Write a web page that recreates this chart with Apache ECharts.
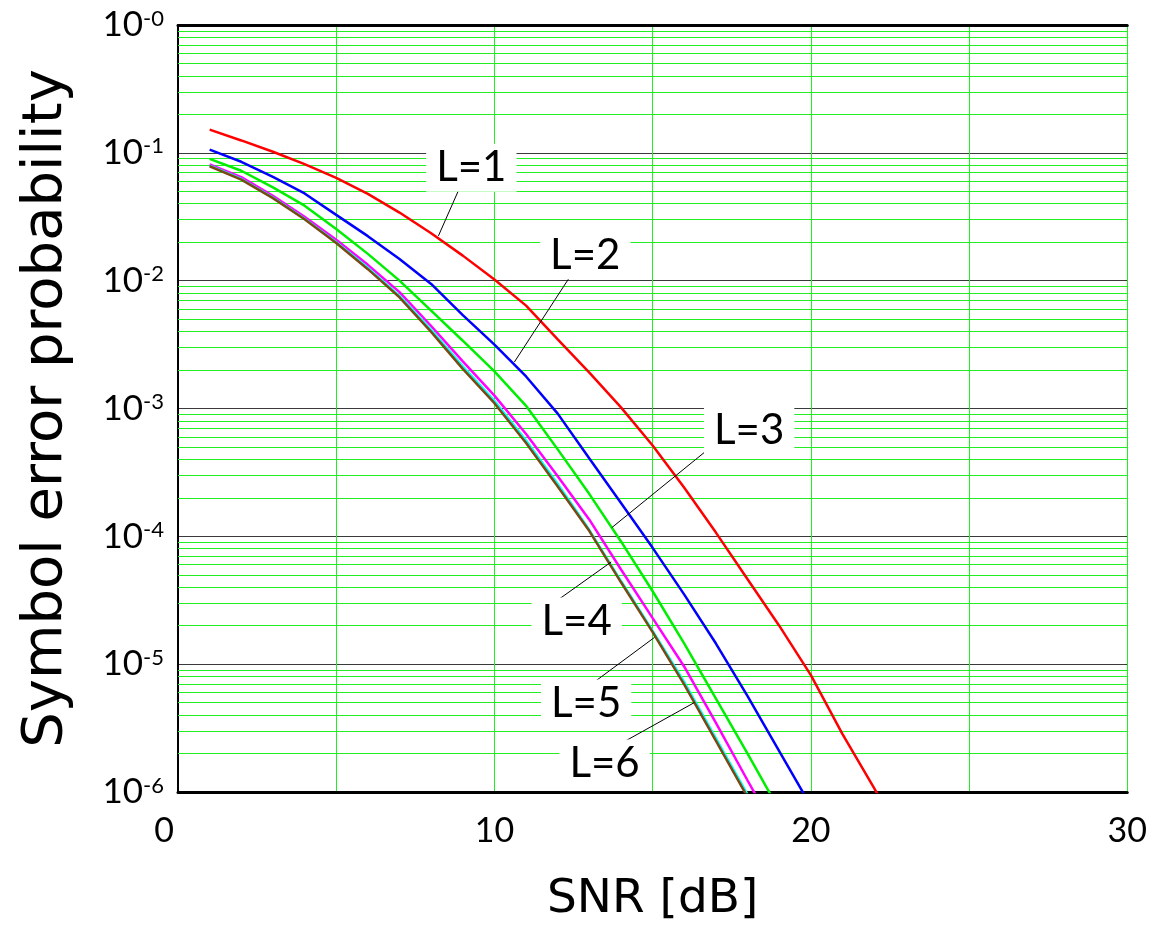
<!DOCTYPE html>
<html>
<head>
<meta charset="utf-8">
<script src="https://cdn.jsdelivr.net/npm/echarts@6/dist/echarts.min.js"></script>
<style>
  html, body { margin: 0; padding: 0; background: #fff; }
  #chart { width: 1150px; height: 937px; }
</style>
</head>
<body>
<div id="chart"></div>
<script>
// SNR in dB, one point per dB
const snr = [1, 2, 3, 4, 5, 6, 7, 8, 9, 10, 11, 12, 13, 14, 15, 16, 17, 18, 19, 20, 21, 22, 23];

// symbol error probability
const serL1 = [0.152, 0.125, 0.102, 0.0817, 0.0637, 0.0478, 0.0341, 0.0235, 0.0157, 0.0102,
  0.00638, 0.00347, 0.00191, 0.00102, 5.13e-4, 2.40e-4, 1.07e-4, 4.61e-5, 2.0e-5, 8.2e-6,
  2.84e-6, 1.07e-6, 4.0e-7];
const serL2 = [0.106, 0.0851, 0.0649, 0.0481, 0.0327, 0.0223, 0.0148, 0.00942, 0.00537, 0.00316,
  0.00178, 9.12e-4, 4.07e-4, 1.82e-4, 8.13e-5, 3.50e-5, 1.45e-5, 5.62e-6, 2.09e-6, 7.76e-7];
const serL3 = [0.0897, 0.0724, 0.0537, 0.0386, 0.0254, 0.0162, 0.0100, 0.00582, 0.00339, 0.00195,
  0.00105, 4.79e-4, 2.14e-4, 9.12e-5, 3.72e-5, 1.45e-5, 5.37e-6, 2.0e-6, 7.24e-7];
const serL4 = [0.0813, 0.0646, 0.0462, 0.0316, 0.0209, 0.0133, 0.00813, 0.00442, 0.00234, 0.00126,
  6.31e-4, 2.95e-4, 1.35e-4, 5.50e-5, 2.29e-5, 9.55e-6, 3.47e-6, 1.23e-6, 4.47e-7];
const serL5 = [0.0794, 0.0624, 0.0447, 0.0305, 0.0200, 0.0126, 0.00759, 0.00412, 0.00214, 0.00115,
  5.62e-4, 2.57e-4, 1.12e-4, 4.47e-5, 1.82e-5, 7.24e-6, 2.63e-6, 9.55e-7];
const serL6 = [0.0785, 0.0617, 0.0442, 0.0302, 0.0197, 0.0123, 0.00741, 0.00398, 0.00204, 0.00110,
  5.37e-4, 2.45e-4, 1.10e-4, 4.37e-5, 1.78e-5, 6.92e-6, 2.51e-6, 9.12e-7];

const curveNames = ['L=1', 'L=2', 'L=3', 'L=4', 'L=5', 'L=6'];
const curveColors = ['#ff0000', '#0000ff', '#00ee00', '#ff00ff', '#00ffff', '#7b4a12'];
const curves = [serL1, serL2, serL3, serL4, serL5, serL6];

// label boxes and their leader lines (data coords)
const labelX = [9.27, 12.87, 18.05, 12.6, 12.9, 13.48];
const labelY = [0.0764, 0.0158, 6.76e-4, 2.16e-5, 4.93e-6, 1.67e-6];
const leaderFrom = [[8.86, 0.0505], [12.34, 0.0103], [16.85, 5.01e-4], [11.99, 3.16e-5], [12.84, 6.35e-6], [13.38, 1.97e-6]];
const leaderTo = [[8.23, 0.0224], [10.63, 0.00231], [13.71, 1.17e-4], [13.69, 6.3e-5], [15.06, 1.62e-5], [16.32, 5.01e-6]];

// minor grid: 2..9 within every decade
const minorGrid = [];
for (let k = 1; k <= 6; k++) {
  for (let m = 2; m <= 9; m++) minorGrid.push(m * Math.pow(10, -k));
}

const tickFont = 'Lato';
const nameFont = 'DejaVu Sans';
const chart = echarts.init(document.getElementById('chart'));

const series = [];

series.push({
  type: 'lines',
  coordinateSystem: 'cartesian2d',
  z: 1,
  silent: true,
  lineStyle: { color: '#22ee22', width: 1, opacity: 1 },
  data: minorGrid.map(v => ({ coords: [[0, v], [30, v]] }))
});

curves.forEach((vals, i) => series.push({
  name: curveNames[i],
  type: 'line',
  z: 3,
  symbol: 'none',
  data: vals.map((v, j) => [snr[j], v]),
  lineStyle: { color: curveColors[i], width: 2.5 },
  itemStyle: { color: curveColors[i] }
}));

series.push({
  type: 'lines',
  coordinateSystem: 'cartesian2d',
  z: 4,
  silent: true,
  lineStyle: { color: '#000', width: 1, opacity: 1 },
  data: leaderFrom.map((p, i) => ({ coords: [p, leaderTo[i]] }))
});

series.push({
  type: 'scatter',
  z: 5,
  silent: true,
  symbolSize: 2,
  itemStyle: { color: 'rgba(255,255,255,0)' },
  data: labelX.map((x, i) => [x, labelY[i]]),
  label: {
    show: true,
    position: 'inside',
    formatter: p => curveNames[p.dataIndex],
    fontFamily: tickFont,
    fontSize: 42,
    color: '#000',
    opacity: 1,
    textBorderWidth: 0,
    backgroundColor: '#fff',
    padding: [4, 10, 2, 10]
  }
});

chart.setOption({
  animation: false,
  backgroundColor: '#fff',
  grid: { left: 178, right: 20, top: 25, bottom: 145 },
  xAxis: [{
    type: 'value',
    min: 0,
    max: 30,
    interval: 5,
    name: 'SNR [dB]',
    nameLocation: 'middle',
    nameGap: 84,
    nameTextStyle: { fontFamily: nameFont, fontSize: 47, color: '#000' },
    axisLine: { onZero: false, lineStyle: { color: '#000', width: 3 } },
    axisTick: { show: false },
    axisLabel: {
      fontFamily: tickFont,
      fontSize: 34,
      color: '#000',
      margin: 22,
      formatter: v => (v % 10 === 0 ? (v === 0 ? '{z|0}' : String(v)) : ''),
      rich: { z: { fontFamily: tickFont, fontSize: 34, color: '#000', padding: [0, 28, 0, 0] } }
    },
    splitLine: { show: true, lineStyle: { color: '#22ee22', width: 1 } }
  }, {
    type: 'value',
    position: 'top',
    min: 0,
    max: 30,
    interval: 5,
    axisLine: { show: true, lineStyle: { color: '#000', width: 3 } },
    axisTick: { show: false },
    axisLabel: { show: false },
    splitLine: { show: false }
  }],
  yAxis: [{
    type: 'log',
    logBase: 10,
    min: 1e-6,
    max: 1,
    splitNumber: 6,
    name: 'Symbol error probability',
    nameLocation: 'middle',
    nameGap: 104,
    nameTextStyle: { fontFamily: nameFont, fontSize: 56, color: '#000' },
    axisLine: { show: false },
    axisTick: { show: false },
    axisLabel: {
      margin: 14,
      formatter: v => '{b|10}{s|-' + Math.round(-Math.log10(v)) + '}',
      rich: {
        b: { fontFamily: tickFont, fontSize: 35, color: '#000' },
        s: { fontFamily: tickFont, fontSize: 22, color: '#000', verticalAlign: 'top' }
      }
    },
    splitLine: { show: true, lineStyle: { color: '#3a3a3a', width: 1.2 } }
  }, {
    type: 'log',
    logBase: 10,
    min: 1e-6,
    max: 1,
    position: 'right',
    axisLine: { show: true, lineStyle: { color: '#000', width: 2 } },
    axisTick: { show: false },
    axisLabel: { show: false },
    splitLine: { show: false }
  }],
  series: series
});
</script>
</body>
</html>
